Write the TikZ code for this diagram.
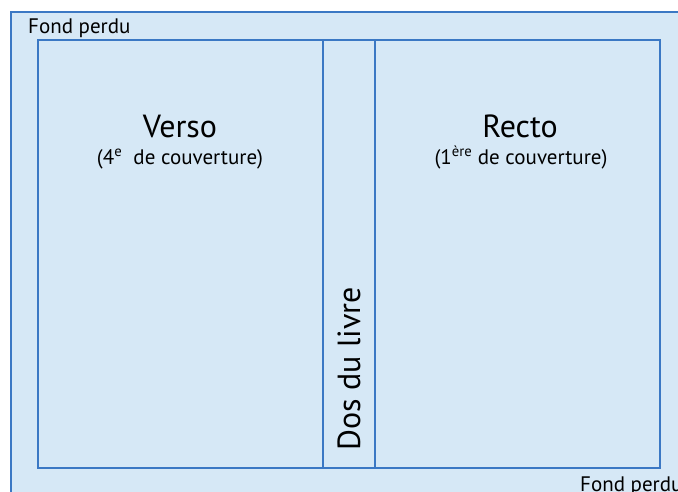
\documentclass[tikz,border=0pt]{standalone}
\usepackage{fontspec}
\setmainfont{PT Sans}

\definecolor{fondbleu}{HTML}{D6E8F6}
\definecolor{traitbleu}{HTML}{3B78C4}

\begin{document}
\begin{tikzpicture}[x=1pt, y=-1pt,
		trait/.style={draw=traitbleu, line width=1.8pt},
		grand/.style={font=\fontsize{32}{34}\selectfont},
		petit/.style={font=\fontsize{21}{23}\selectfont},
		marge/.style={font=\fontsize{21}{23}\selectfont, inner sep=0pt}]
		\useasboundingbox (0, 0) rectangle (678, 491);
		\clip (0, 0) rectangle (678, 491);

		% fond perdu
		\coordinate (O) at (11, 12);
		\coordinate (P) at (700, 520);
		\draw[trait, fill=fondbleu] (O) rectangle (P);

		% couverture
		\coordinate (A) at (38, 40);
		\coordinate (B) at (660, 468);
		\coordinate (C) at (323, 40);
		\coordinate (D) at (323, 468);
		\coordinate (E) at (375, 40);
		\coordinate (F) at (375, 468);
		\draw[trait] (A) rectangle (B);
		\draw[trait] (C) -- (D);
		\draw[trait] (E) -- (F);

		% textes
		\node[marge, anchor=base west] (fp1) at (28, 33) {Fond perdu};
		\node[marge, anchor=base west] (fp2) at (580, 491) {Fond perdu};
		\node[grand, anchor=base] (verso) at (180, 137) {Verso};
		\node[petit, anchor=base] (verso2) at (180, 164) {(4\textsuperscript{e}\ \ de couverture)};
		\node[grand, anchor=base] (recto) at (520, 137) {Recto};
		\node[petit, anchor=base] (recto2) at (521, 164) {(1\textsuperscript{ère} de couverture)};
		\node[grand, rotate=90] (dos) at (349, 369) {Dos du livre};
	\end{tikzpicture}
\end{document}
